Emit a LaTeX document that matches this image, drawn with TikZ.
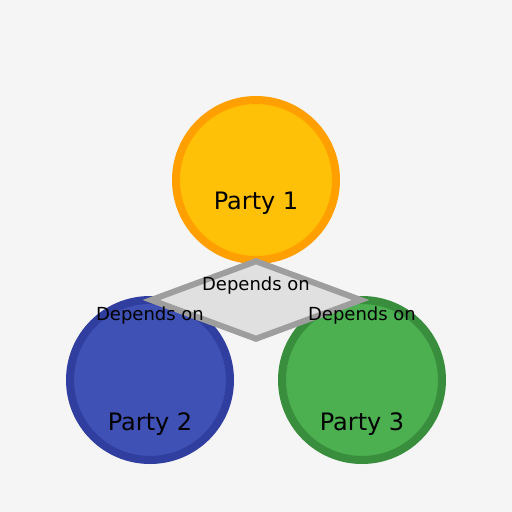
\documentclass[tikz,border=0pt]{standalone}
\usepackage{fontspec}
\setmainfont{DejaVu Sans}
\usetikzlibrary{shapes.geometric}
\definecolor{bg}{HTML}{F5F5F5}
\definecolor{p1fill}{HTML}{FFC107}
\definecolor{p1line}{HTML}{FFA000}
\definecolor{p2fill}{HTML}{3F51B5}
\definecolor{p2line}{HTML}{303F9F}
\definecolor{p3fill}{HTML}{4CAF50}
\definecolor{p3line}{HTML}{388E3C}
\definecolor{dfill}{HTML}{E0E0E0}
\definecolor{dline}{HTML}{9E9E9E}
\tikzset{
  party/.style={circle, minimum size=160pt, inner sep=0pt, line width=8pt},
  rel/.style={diamond, minimum width=212pt, minimum height=80pt, inner sep=0pt, line width=6pt, fill=dfill, draw=dline},
  bigtxt/.style={anchor=base, inner sep=0pt, font=\fontsize{24}{28}\selectfont},
  smalltxt/.style={anchor=base, inner sep=0pt, font=\fontsize{18}{21}\selectfont}
}
\begin{document}
\begin{tikzpicture}[x=1pt,y=-1pt]
\fill[bg] (0,0) rectangle (512,512);
\useasboundingbox (0,0) rectangle (512,512);
\node[party, fill=p1fill, draw=p1line] (c1) at (256,180) {};
\node[party, fill=p2fill, draw=p2line] (c2) at (150,380) {};
\node[party, fill=p3fill, draw=p3line] (c3) at (362,380) {};
\node[rel] (d) at (256,300) {};
\node[bigtxt] (t1) at (256,209) {Party 1};
\node[bigtxt] (t2) at (150,430) {Party 2};
\node[bigtxt] (t3) at (362,430) {Party 3};
\node[smalltxt] (l1) at (256,290) {Depends on};
\node[smalltxt] (l2) at (150,320) {Depends on};
\node[smalltxt] (l3) at (362,320) {Depends on};
\end{tikzpicture}
\end{document}
